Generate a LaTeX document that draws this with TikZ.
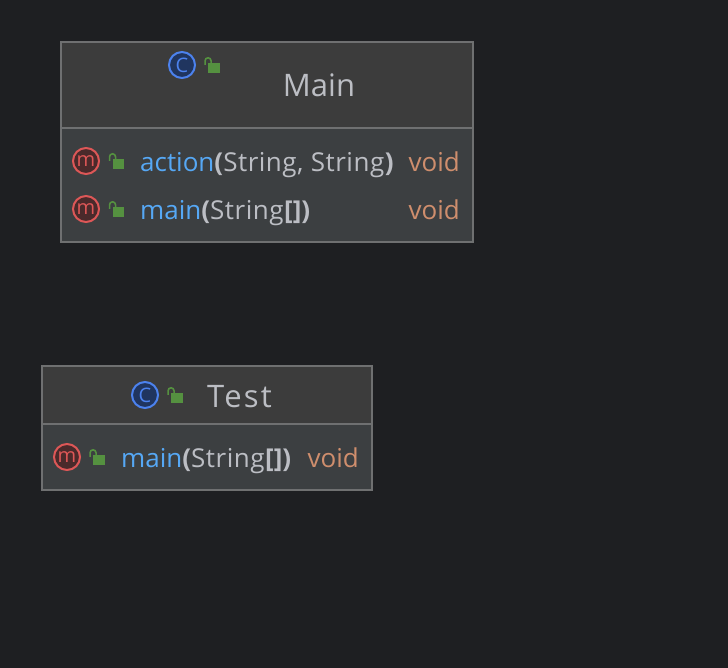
\documentclass[tikz,border=0pt]{standalone}
\usepackage{fontspec}
\setmainfont{Open Sans}
\usepackage{xcolor}
\definecolor{canvas}{HTML}{1E1F22}
\definecolor{head}{HTML}{3C3C3C}
\definecolor{body}{HTML}{3C3F41}
\definecolor{frame}{HTML}{6F7071}
\definecolor{methodblue}{HTML}{56A8F5}
\definecolor{plaintext}{HTML}{BCBEC4}
\definecolor{voidtext}{HTML}{CF8E6D}
\definecolor{lockgreen}{HTML}{559140}
\definecolor{cline}{HTML}{4C82EE}
\definecolor{cfill}{HTML}{20355F}
\definecolor{mline}{HTML}{DD5757}
\definecolor{mfill}{HTML}{4A2A2B}
\tikzset{
  headbox/.style={draw=frame, line width=1.6pt, fill=head, rectangle, anchor=north west, inner sep=0pt, outer sep=0pt},
  bodybox/.style={draw=frame, line width=1.6pt, fill=body, rectangle, anchor=north west, inner sep=0pt, outer sep=0pt},
  classicon/.style={circle, draw=cline, fill=cfill, line width=2pt, minimum size=26pt, inner sep=0pt, text=cline, font=\fontsize{20}{20}\selectfont},
  methodicon/.style={circle, draw=mline, fill=mfill, line width=2pt, minimum size=26pt, inner sep=0pt, text=mline, font=\fontsize{20}{20}\selectfont},
  lockbody/.style={rectangle, fill=lockgreen, minimum width=11.5pt, minimum height=10pt, inner sep=0pt},
  shackle/.style={draw=lockgreen, line width=1.6pt},
  titletext/.style={anchor=base, text=plaintext, inner sep=0pt, font=\fontsize{31}{31}\selectfont},
  membertext/.style={anchor=base west, text=plaintext, inner sep=0pt, font=\fontsize{26}{26}\selectfont},
  voidlabel/.style={anchor=base east, text=voidtext, inner sep=0pt, font=\fontsize{26}{26}\selectfont},
}
\newcommand{\shacklefor}[1]{\draw [shackle] ([xshift=3pt] #1.north west) -- ++(0,-2) arc (0:-180:3) -- ++(0,4);}
\newcommand{\mname}[1]{{\color{methodblue}#1}}
\newcommand{\ptext}[1]{{\addfontfeature{LetterSpace=2}#1}}
\begin{document}
\begin{tikzpicture}[x=1pt, y=-1pt]
\useasboundingbox [fill=canvas] (0,0) rectangle (728,668);

% class Main
\node [bodybox, minimum width=412pt, minimum height=200pt] (mainbody) at (61,42) {};
\node [headbox, minimum width=412pt, minimum height=86pt] (mainhead) at (61,42) {};
\node [classicon] (mainC) at (182,65) {C};
\node [lockbody] (mainlock) at (214,68) {};
\shacklefor{mainlock}
\node [titletext] (maintitle) at (319,97) {Main};

\node [methodicon] (actionM) at (86,161) {m};
\node [lockbody] (actionlock) at (118.5,164) {};
\shacklefor{actionlock}
\node [membertext] (actiontext) at (140,171.5) {\mname{action}\textbf{(}\ptext{String, String}\textbf{)}};
\node [voidlabel] (actionvoid) at (460,171.5) {void};

\node [methodicon] (mainM) at (86,209) {m};
\node [lockbody] (mainmlock) at (118.5,212) {};
\shacklefor{mainmlock}
\node [membertext] (maintext) at (140,219.5) {\mname{main}\textbf{(}\ptext{String}\textbf{[])}};
\node [voidlabel] (mainvoid) at (460,219.5) {void};

% class Test
\node [bodybox, minimum width=330pt, minimum height=124pt] (testbody) at (42,366) {};
\node [headbox, minimum width=330pt, minimum height=58pt] (testhead) at (42,366) {};
\node [classicon] (testC) at (145,395) {C};
\node [lockbody] (testlock) at (177,398) {};
\shacklefor{testlock}
\node [titletext] (testtitle) at (239.5,407) {\addfontfeature{LetterSpace=7}Test};

\node [methodicon] (testM) at (67,457) {m};
\node [lockbody] (testmlock) at (99,460) {};
\shacklefor{testmlock}
\node [membertext] (testtext) at (121,467.5) {\mname{main}\textbf{(}\ptext{String}\textbf{[])}};
\node [voidlabel] (testvoid) at (359,467.5) {void};
\end{tikzpicture}
\end{document}
